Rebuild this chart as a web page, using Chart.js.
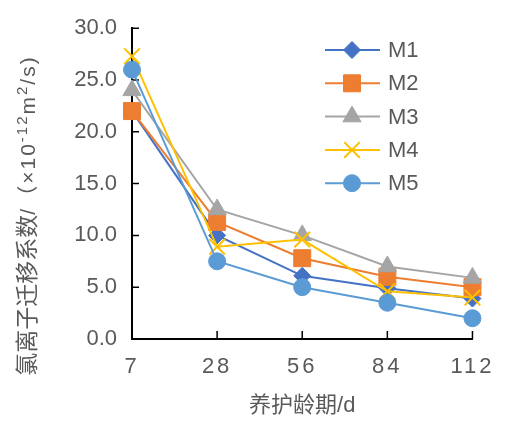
<!DOCTYPE html>
<html><head><meta charset="utf-8">
<script src="https://cdn.jsdelivr.net/npm/chart.js@4/dist/chart.umd.min.js"></script>
<style>html,body{margin:0;padding:0;background:#fff}canvas{display:block}</style>
</head><body>
<canvas id="c" width="505" height="421"></canvas>
<script>
// ---- data ----
const categories = ['7', '28', '56', '84', '112'];
const seriesNames = ['M1', 'M2', 'M3', 'M4', 'M5'];
const M1 = [22.0, 10.0, 6.1, 4.9, 3.9];
const M2 = [22.0, 11.3, 7.8, 6.0, 5.0];
const M3 = [24.0, 12.5, 10.0, 7.0, 5.9];
const M4 = [27.3, 8.9, 9.6, 4.6, 4.0];
const M5 = [26.0, 7.5, 5.0, 3.5, 2.0];
const yTicks = [0, 5, 10, 15, 20, 25, 30];
const xTitle = '养护龄期/d';
// [text, isSuperscript, isCJK]
const yTitleParts = [['氯离子迁移系数', false, true], ['/（×10', false, false], ['-12', true, false], ['m', false, false], ['2', true, false], ['/s)', false, false]];

// ---- styles ----
const FONT = '"Liberation Sans", "Noto Sans CJK SC", sans-serif';
const TEXT = '#595959';
const colors = ['#4472C4', '#ED7D31', '#A5A5A5', '#FFC000', '#5B9BD5'];
const styles = ['rectRot', 'rect', 'triangle', 'crossRot', 'circle'];
const radii = [8.5, 12, 10.5, 11, 8.5];
const values = [M1, M2, M3, M4, M5];

const datasets = seriesNames.map((n, i) => ({
  label: n,
  data: values[i],
  borderColor: colors[i],
  backgroundColor: colors[i],
  borderWidth: 2,
  pointStyle: styles[i],
  pointRadius: radii[i],
  pointHoverRadius: radii[i],
  pointBorderWidth: styles[i] === 'crossRot' ? 2 : 1,
  pointBorderColor: colors[i],
  pointBackgroundColor: colors[i],
  order: seriesNames.length - i,
  tension: 0,
  clip: false
}));

const tickPlugin = {
  id: 'innerTicks',
  beforeDatasetsDraw(chart) {
    const ctx = chart.ctx, xs = chart.scales.x, ys = chart.scales.y;
    const a = chart.chartArea;
    ctx.save();
    ctx.strokeStyle = '#000';
    ctx.lineWidth = 1.5;
    ctx.beginPath();
    for (let i = 1; i < categories.length; i++) {
      const x = xs.getPixelForValue(i);
      ctx.moveTo(x, a.bottom - 8); ctx.lineTo(x, a.bottom);
    }
    yTicks.forEach(v => {
      if (v === 0) return;
      const y = ys.getPixelForValue(v);
      ctx.moveTo(a.left, y); ctx.lineTo(a.left + 7, y);
    });
    ctx.stroke();
    ctx.restore();
  }
};

function drawMarker(ctx, style, r, bw, x, y) {
  if (Chart.helpers && Chart.helpers.drawPoint) {
    Chart.helpers.drawPoint(ctx, {pointStyle: style, radius: r, rotation: 0, borderWidth: bw}, x, y);
    return;
  }
  ctx.beginPath();
  if (style === 'circle') { ctx.arc(x, y, r, 0, Math.PI * 2); ctx.fill(); }
  else if (style === 'rect') { const s = r * Math.SQRT1_2; ctx.rect(x - s, y - s, 2 * s, 2 * s); ctx.fill(); }
  else if (style === 'rectRot') { ctx.moveTo(x, y - r); ctx.lineTo(x + r, y); ctx.lineTo(x, y + r); ctx.lineTo(x - r, y); ctx.closePath(); ctx.fill(); }
  else if (style === 'triangle') { ctx.moveTo(x, y - r); ctx.lineTo(x + r * 0.866, y + r / 2); ctx.lineTo(x - r * 0.866, y + r / 2); ctx.closePath(); ctx.fill(); }
  else if (style === 'crossRot') { const s = r * Math.SQRT1_2; ctx.moveTo(x - s, y - s); ctx.lineTo(x + s, y + s); ctx.moveTo(x - s, y + s); ctx.lineTo(x + s, y - s); ctx.stroke(); }
}

const decorPlugin = {
  id: 'decor',
  afterLayout(chart) {
    const xs = chart.scales.x;
    if (xs && !xs._lsPatched) {
      const orig = xs.drawLabels.bind(xs);
      xs.drawLabels = function (area) {
        const ctx = chart.ctx; ctx.save(); ctx.letterSpacing = '3px'; orig(area); ctx.restore();
      };
      xs._lsPatched = true;
    }
  },
  afterDraw(chart) {
    const ctx = chart.ctx;
    const a = chart.chartArea;
    ctx.save();
    ctx.fillStyle = TEXT;
    // x title
    ctx.font = '22px ' + FONT;
    ctx.textAlign = 'center';
    ctx.textBaseline = 'middle';
    ctx.fillText(xTitle, (a.left + a.right) / 2, 406);
    // y title (rotated, with superscripts)
    const setPart = (sup, cjk) => {
      ctx.font = (sup ? 15 : (cjk ? 23 : 21)) + 'px ' + FONT;
      ctx.letterSpacing = cjk ? '0px' : '2px';
    };
    let total = 0;
    yTitleParts.forEach(([t, sup, cjk]) => { setPart(sup, cjk); total += ctx.measureText(t).width; });
    ctx.translate(27, 215.5);
    ctx.rotate(-Math.PI / 2);
    ctx.textAlign = 'left';
    ctx.textBaseline = 'alphabetic';
    let xx = -total / 2;
    yTitleParts.forEach(([t, sup, cjk]) => {
      setPart(sup, cjk);
      ctx.fillText(t, xx, sup ? 0 : 8);
      xx += ctx.measureText(t).width;
    });
    ctx.restore();

    // legend
    ctx.save();
    chart.data.datasets.forEach((ds, i) => {
      const y = 50 + i * 33.3;
      ctx.strokeStyle = ds.borderColor;
      ctx.lineWidth = 2;
      ctx.beginPath(); ctx.moveTo(325, y); ctx.lineTo(380, y); ctx.stroke();
      ctx.fillStyle = ds.pointBackgroundColor;
      ctx.strokeStyle = ds.pointBorderColor;
      ctx.lineWidth = ds.pointBorderWidth;
      drawMarker(ctx, ds.pointStyle, ds.pointRadius, ds.pointBorderWidth, 352, y);
      ctx.fillStyle = TEXT;
      ctx.font = '22px ' + FONT;
      ctx.textAlign = 'left';
      ctx.textBaseline = 'middle';
      ctx.fillText(ds.label, 388, y + 1);
    });
    ctx.restore();
  }
};

new Chart(document.getElementById('c'), {
  type: 'line',
  data: { labels: categories, datasets },
  options: {
    responsive: false,
    animation: false,
    events: [],
    layout: { padding: { left: 0, right: 25, top: 17, bottom: 0 } },
    plugins: { legend: { display: false }, tooltip: { enabled: false }, title: { display: false } },
    scales: {
      x: {
        offset: false,
        grid: { display: false, drawTicks: false },
        border: { display: true, color: '#000', width: 2 },
        ticks: { color: TEXT, font: { size: 22, family: FONT }, padding: 15, maxRotation: 0, autoSkip: false },
        afterFit(s) { s.height = 82; }
      },
      y: {
        min: 0, max: 30,
        grid: { display: false, drawTicks: false },
        border: { display: true, color: '#000', width: 2 },
        afterBuildTicks(s) { s.ticks = yTicks.map(v => ({ value: v })); },
        ticks: { color: TEXT, font: { size: 22, family: FONT }, padding: 15, callback: v => Number(v).toFixed(1) },
        afterFit(s) { s.width = 132; }
      }
    }
  },
  plugins: [tickPlugin, decorPlugin]
});
</script>
</body></html>
